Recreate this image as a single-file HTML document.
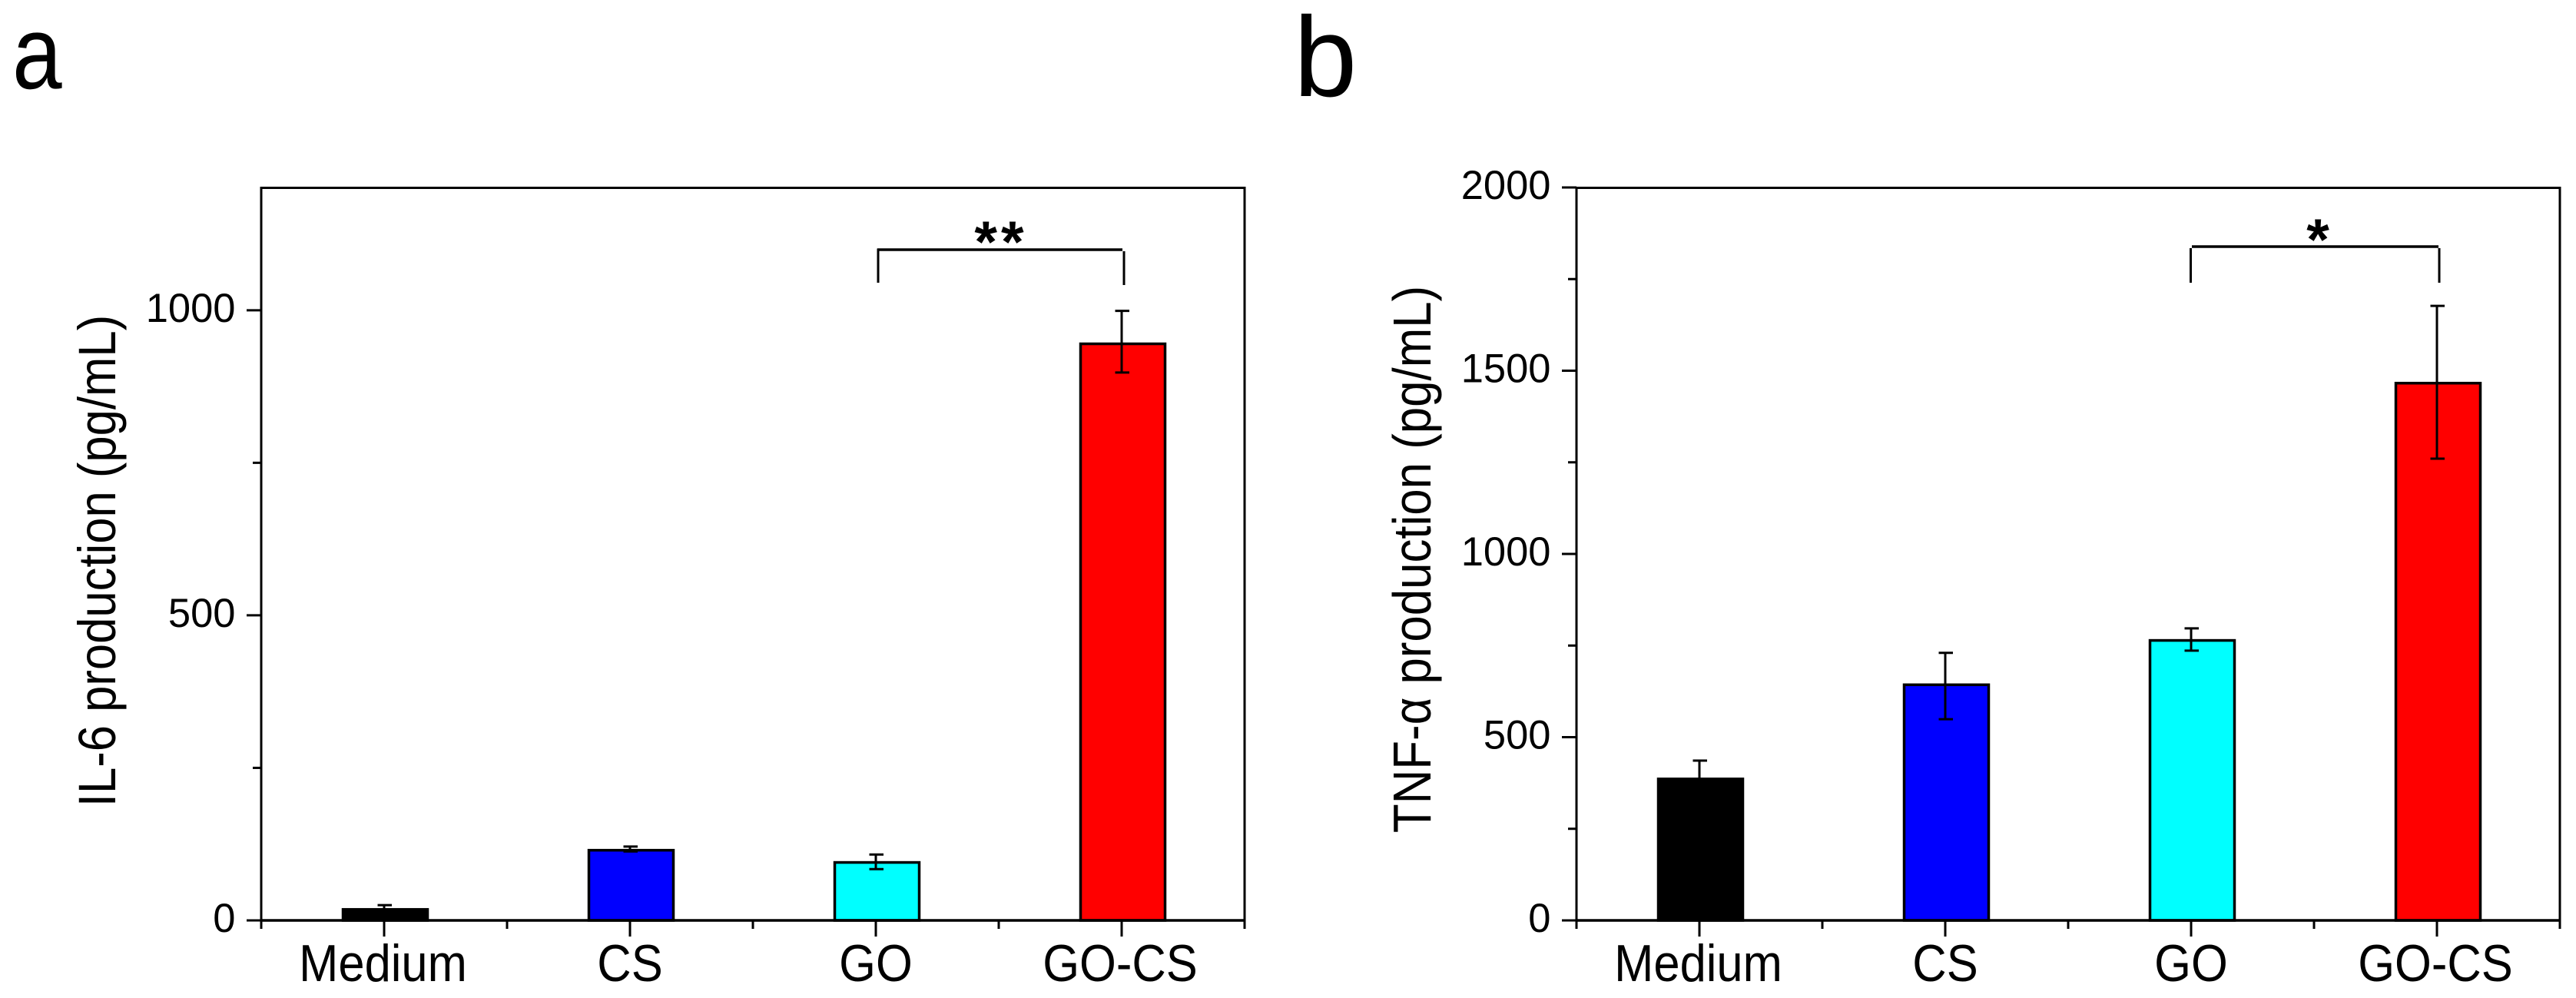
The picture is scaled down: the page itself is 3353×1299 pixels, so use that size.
<!DOCTYPE html>
<html lang="en">
<head>
<meta charset="utf-8">
<title>IL-6 and TNF-α production</title>
<style>
html,body{margin:0;padding:0;background:#fff;}
svg{display:block;}
text{font-family:"Liberation Sans",Arial,sans-serif;fill:#000;}
</style>
</head>
<body>
<svg id="figure" xmlns="http://www.w3.org/2000/svg" width="3353" height="1299" viewBox="0 0 3353 1299">
  <rect x="0" y="0" width="3353" height="1299" fill="#fff"/>
  <text transform="translate(16,115) scale(0.86,1)" font-size="135">a</text>
  <text x="1684" y="125" font-size="148">b</text>

  <g id="panel-a"></g>
  <g id="panel-b"></g>

  <text transform="translate(150,730) rotate(-90) scale(1,1.12)" text-anchor="middle" font-size="61.6">IL-6 production (pg/mL)</text>
  <text transform="translate(1862,728) rotate(-90) scale(1,1.12)" text-anchor="middle" font-size="61.8">TNF-α production (pg/mL)</text>

  <g fill="none" stroke="#000">
    <path d="M1142 325H1461" stroke-width="3.5"/>
    <path d="M1143 323.5V368" stroke-width="3"/>
    <path d="M1463 327V371" stroke-width="3"/>
  </g>
  <text x="1303" y="341" text-anchor="middle" font-size="76" font-weight="bold" letter-spacing="5">**</text>

  <g fill="none" stroke="#000">
    <path d="M2853 321H3174" stroke-width="3.5"/>
    <path d="M2851.5 323V368" stroke-width="3"/>
    <path d="M3175 323V368" stroke-width="3"/>
  </g>
  <text x="3017" y="338" text-anchor="middle" font-size="76" font-weight="bold">*</text>
</svg>

<script>
const categories = ['Medium', 'CS', 'GO', 'GO-CS'];
const barColors = ['#000000', '#0000ff', '#00ffff', '#ff0000'];

const il6Values = [18, 115, 95, 945];
const il6ErrorUpper = [25, 121, 108, 999];
const il6ErrorLower = [14, 113, 84, 898];
const il6MajorTicks = [0, 500, 1000];
const il6MinorTicks = [250, 750];

const tnfValues = [386, 643, 764, 1466];
const tnfErrorUpper = [436, 730, 797, 1677];
const tnfErrorLower = [340, 549, 736, 1260];
const tnfMajorTicks = [0, 500, 1000, 1500, 2000];
const tnfMinorTicks = [250, 750, 1250, 1750];

const SVG_NS = 'http://www.w3.org/2000/svg';

function makeEl(parent, tag, attrs) {
  const node = document.createElementNS(SVG_NS, tag);
  Object.keys(attrs).forEach(function (k) { node.setAttribute(k, attrs[k]); });
  parent.appendChild(node);
  return node;
}

function drawChart(root, prefix, layout, values, upper, lower, majorTicks, minorTicks) {
  const yScale = function (v) {
    return layout.bottom - (v / layout.yMax) * (layout.bottom - layout.yTop);
  };
  const xScale = function (pos) {
    return layout.left + (pos + 0.5) * (layout.right - layout.left) / categories.length;
  };

  const frame = makeEl(root, 'rect', {
    x: layout.left, y: layout.top, width: layout.right - layout.left, height: layout.bottom - layout.top,
    fill: 'none', stroke: '#000', 'stroke-width': 3
  });
  
  

  categories.forEach(function (cat, i) {
    const barWidth = layout.barWidth;
    const cx = xScale(i) + 1.5;
    const top = yScale(values[i]);

    const bar = makeEl(root, 'rect', {
      x: cx - barWidth / 2, y: top, width: barWidth, height: layout.bottom - top,
      fill: barColors[i], stroke: '#000', 'stroke-width': 3.5
    });
    
    

    const stem = makeEl(root, 'line', {
      x1: xScale(i), x2: xScale(i), y1: yScale(upper[i]), y2: yScale(lower[i]),
      stroke: '#000', 'stroke-width': 3
    });
    
    

    const capTop = makeEl(root, 'line', {
      x1: xScale(i) - 8.5, x2: xScale(i) + 10, y1: yScale(upper[i]), y2: yScale(upper[i]),
      stroke: '#000', 'stroke-width': 3
    });
    
    

    const capLow = makeEl(root, 'line', {
      x1: xScale(i) - 8.5, x2: xScale(i) + 10, y1: yScale(lower[i]), y2: yScale(lower[i]),
      stroke: '#000', 'stroke-width': 3
    });
    
    

    const xTick = makeEl(root, 'line', {
      x1: xScale(i), x2: xScale(i), y1: layout.bottom, y2: layout.bottom + 21,
      stroke: '#000', 'stroke-width': 3
    });
    
    

    const label = makeEl(root, 'text', {
      transform: 'translate(' + (xScale(i) + layout.labelShift[i]) + ',1277) scale(1,1.1)',
      'text-anchor': 'middle', 'font-size': 61.5
    });
    label.textContent = cat;
    
    
  });

  for (let i = 0; i <= categories.length; i++) {
    const minorX = xScale(i - 0.5);
    const xMinor = makeEl(root, 'line', {
      x1: minorX, x2: minorX, y1: layout.bottom, y2: layout.bottom + 11,
      stroke: '#000', 'stroke-width': 3
    });
    
    
  }

  const baseline = makeEl(root, 'line', {
    x1: layout.left, x2: layout.right + 1.5, y1: layout.bottom, y2: layout.bottom,
    stroke: '#000', 'stroke-width': 3.5
  });
  
  

  majorTicks.forEach(function (v) {
    const tick = makeEl(root, 'line', {
      x1: layout.left - 19, x2: layout.left, y1: yScale(v), y2: yScale(v),
      stroke: '#000', 'stroke-width': 3
    });
    
    

    const tickLabel = makeEl(root, 'text', {
      x: layout.left - 33.5, y: yScale(v) + 15, 'text-anchor': 'end', 'font-size': 52.5
    });
    tickLabel.textContent = String(v);
    
    
  });

  minorTicks.forEach(function (v) {
    const minor = makeEl(root, 'line', {
      x1: layout.left - 11, x2: layout.left, y1: yScale(v), y2: yScale(v),
      stroke: '#000', 'stroke-width': 3
    });
    
    
  });
}

drawChart(
  document.getElementById('panel-a'), 'il6',
  { left: 340, right: 1620, top: 244.5, bottom: 1198, yTop: 245, yMax: 1200, barWidth: 110, labelShift: [-1.5, 0, 0, -2] },
  il6Values, il6ErrorUpper, il6ErrorLower, il6MajorTicks, il6MinorTicks
);

drawChart(
  document.getElementById('panel-b'), 'tnf',
  { left: 2052, right: 3332, top: 244.5, bottom: 1198, yTop: 244, yMax: 2000, barWidth: 110, labelShift: [-1.5, 0, 0, -2] },
  tnfValues, tnfErrorUpper, tnfErrorLower, tnfMajorTicks, tnfMinorTicks
);
</script>
</body>
</html>
